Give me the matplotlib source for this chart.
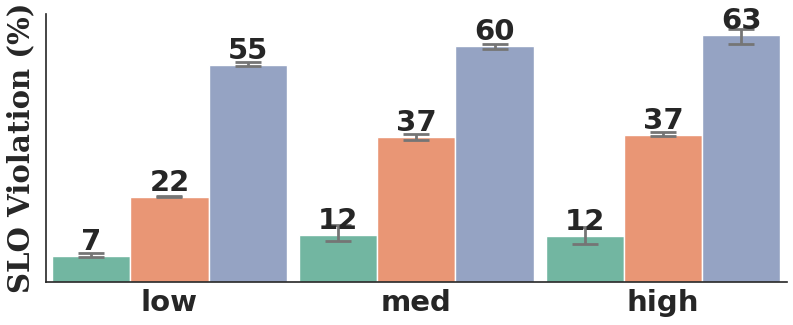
import numpy as np
import matplotlib
matplotlib.use("Agg")
import matplotlib.pyplot as plt
import seaborn as sns

# data
loads = ["low", "med", "high"]
series = ["A", "B", "C"]
means = {
    "A": [6.7, 11.9, 11.6],
    "B": [21.6, 36.8, 37.3],
    "C": [55.0, 59.8, 62.6],
}
ci_low = {
    "A": [6.4, 10.4, 9.6],
    "B": [21.5, 36.1, 37.0],
    "C": [54.7, 59.2, 60.3],
}
ci_high = {
    "A": [7.5, 14.4, 13.9],
    "B": [21.8, 37.5, 38.1],
    "C": [55.7, 60.5, 64.3],
}
labels = {
    "A": ["7", "12", "12"],
    "B": ["22", "37", "37"],
    "C": ["55", "60", "63"],
}

sns.set_style("white")
colors = sns.color_palette("Set2", 3, desat=0.75)

fig = plt.figure(figsize=(7.93, 3.25), dpi=100)
ax = fig.add_axes([0.058, 0.132, 0.934, 0.825])

x = np.arange(len(loads))
group_w = 0.95
bar_w = group_w / len(series)

for i, s in enumerate(series):
    pos = x - group_w / 2 + bar_w * (i + 0.5)
    m = np.array(means[s])
    lo = m - np.array(ci_low[s])
    hi = np.array(ci_high[s]) - m
    bars = ax.bar(pos, m, width=bar_w, color=colors[i], edgecolor="white", linewidth=1)
    ax.errorbar(pos, m, yerr=[lo, hi], fmt="none", ecolor="#757575",
                elinewidth=2, capsize=9.5, capthick=2)
    ax.bar_label(bars, labels=labels[s], padding=0, fontsize=21,
                 fontweight="bold", color="#262626")

ax.set_xlim(-0.5, 2.5)
ax.set_ylim(0, 68)
ax.set_xticks(x)
ax.set_xticklabels(loads, fontsize=21, fontweight="bold", color="#262626")
ax.set_yticks([])
ax.tick_params(axis="x", length=0, pad=5)
ax.set_ylabel("SLO Violation (%)", fontsize=21, fontweight="bold",
              family="DejaVu Serif", color="#262626", labelpad=8)
sns.despine(ax=ax)
for sp in ["left", "bottom"]:
    ax.spines[sp].set_color("#262626")
    ax.spines[sp].set_linewidth(1.2)

fig.savefig("out.png", dpi=100)
